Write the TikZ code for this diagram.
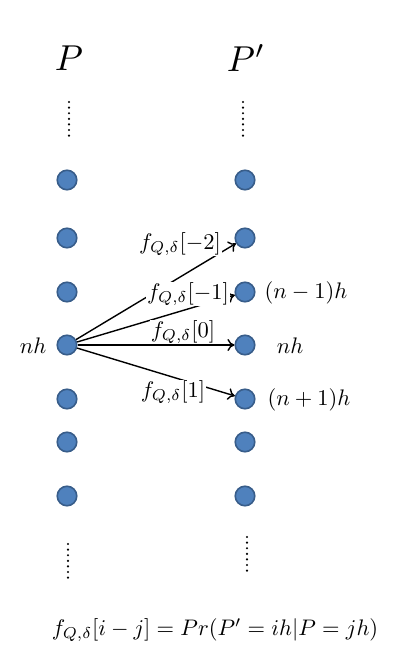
\documentclass[tikz,border=0pt]{standalone}
\usepackage{amsmath}
\usepackage{tikz}
\usetikzlibrary{arrows.meta}
\usetikzlibrary{positioning}
\definecolor{dotfill}{HTML}{4F81BD}
\definecolor{dotedge}{HTML}{385D8A}
\tikzset{
	state/.style = {shape=circle, draw=dotedge, fill=dotfill,
		line width=1.6pt, minimum size=19.5pt, inner sep=0pt},
	prob/.style  = {fill=white, inner sep=0.3pt, scale=2.25},
	lab/.style   = {scale=2.25},
	title/.style = {scale=3.6},
	dots/.style  = {line width=2.4pt, line cap=round, dash pattern=on 0pt off 5.6pt},
	trans/.style = {line width=1.4pt, -{To[length=7pt,width=12pt]}}
}
\begin{document}
\begin{tikzpicture}[x=1pt,y=-1pt]
\useasboundingbox (0,0) rectangle (415,670);
% column titles
\node [title] (tp) at (69,58) {$P$};
\node [title] (tq) at (246,58) {$P'$};
% states of P
\node [state] (p1) at (67,180) {};
\node [state] (p2) at (67,238) {};
\node [state] (p3) at (67,292) {};
\node [state] (p4) at (67,345) {};
\node [state] (p5) at (67,399) {};
\node [state] (p6) at (67,442) {};
\node [state] (p7) at (67,496) {};
% states of P'
\node [state] (q1) at (245,180) {};
\node [state] (q2) at (245,238) {};
\node [state] (q3) at (245,292) {};
\node [state] (q4) at (245,345) {};
\node [state] (q5) at (245,399) {};
\node [state] (q6) at (245,442) {};
\node [state] (q7) at (245,496) {};
% vertical dots
\coordinate (pa) at (69,102);  \coordinate (pb) at (69,141);
\coordinate (qa) at (243,102); \coordinate (qb) at (243,141);
\coordinate (pc) at (68,544);  \coordinate (pd) at (68,583);
\coordinate (qc) at (247,537); \coordinate (qd) at (247,576);
\draw [dots] (pa) -- (pb);
\draw [dots] (qa) -- (qb);
\draw [dots] (pc) -- (pd);
\draw [dots] (qc) -- (qd);
% transitions
\draw [trans] (p4) -- (q2);
\draw [trans] (p4) -- (q3);
\draw [trans] (p4) -- (q4);
\draw [trans] (p4) -- (q5);
\node [prob] (f2) at (180,244) {$f_{Q,\delta}[-2]$};
\node [prob] (f1) at (188,294) {$f_{Q,\delta}[-1]$};
\node [prob] (f0) at (183,332) {$f_{Q,\delta}[0]$};
\node [prob] (f3) at (173,392) {$f_{Q,\delta}[1]$};
% levels
\node [lab] (ln) at (33,346) {$nh$};
\node [lab] (rm) at (306,293) {$(n-1)h$};
\node [lab] (rn) at (290,346) {$nh$};
\node [lab] (rp) at (309,400) {$(n+1)h$};
% definition
\node [lab] (eq) at (215,630) {$f_{Q,\delta}[i-j]=Pr(P'=ih|P=jh)$};
\end{tikzpicture}
\end{document}
